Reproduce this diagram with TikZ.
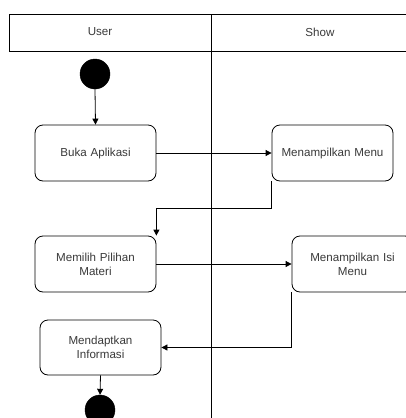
\documentclass[tikz,border=0pt]{standalone}
\usepackage{fontspec}
\setmainfont{Liberation Sans}
\usetikzlibrary{arrows.meta}
\definecolor{txt}{HTML}{3A3A3A}
\tikzset{
  act/.style={draw=black, line width=0.8pt, rounded corners=8pt, minimum width=121pt, minimum height=56pt, text width=110pt, align=center, inner sep=0pt, text=txt, font=\fontsize{11.6}{14}\selectfont},
  dot/.style={circle, fill=black, draw=black, minimum size=30pt, inner sep=0pt},
  flow/.style={draw=black, line width=0.8pt, -{Triangle[length=6pt,width=6pt]}},
  lane/.style={draw=black, line width=0.8pt},
  lbl/.style={text=txt, font=\fontsize{11.6}{14}\selectfont}
}
\begin{document}
\begin{tikzpicture}[x=1pt,y=-1pt]
\useasboundingbox (0,0) rectangle (406,418);
\clip (0,0) rectangle (406,418);
\fill[white] (0,0) rectangle (406,418);
% swimlane header
\coordinate (hTL) at (9,14);
\coordinate (hBL) at (9,51);
\coordinate (hTR) at (410,14);
\coordinate (hBR) at (410,51);
\coordinate (divT) at (211,14);
\coordinate (divB) at (211,420);
\draw[lane] (hTR) -- (hTL) -- (hBL) -- (hBR);
\draw[lane] (divT) -- (divB);
\node[lbl] (user) at (100,32) {User};
\node[lbl] (show) at (320,32) {Show};
% activities
\node[dot] (start) at (95,74) {};
\node[act] (b1) at (95.5,153) {Buka Aplikasi};
\node[act] (b2) at (332.5,153) {Menampilkan Menu};
\node[act] (b3) at (95.5,264) {Memilih Pilihan\\Materi};
\node[act] (b4) at (352.5,264) {Menampilkan Isi\\Menu};
\node[act, minimum height=55pt] (b5) at (100.5,347.5) {Mendaptkan\\Informasi};
\node[dot] (end) at (100,410) {};
% connectors
\draw[flow] (start.south) -- (b1.north);
\draw[flow] (b1.east) -- (b2.west);
\draw[flow] (b2.south west) -- ++(0,27) -| (b3.north east);
\draw[flow] (b3.east) -- (b4.west);
\draw[flow] (b4.south west) |- (b5.east);
\draw[flow] (b5.south) -- (end.north);
\end{tikzpicture}
\end{document}
